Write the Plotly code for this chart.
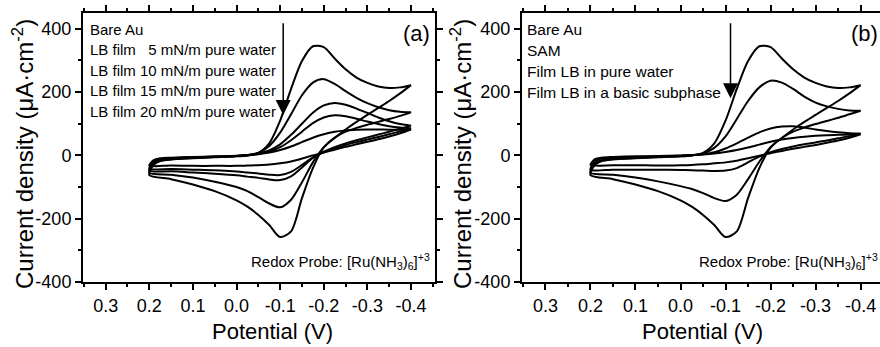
import plotly.graph_objects as go

# Potential grids (V) for the cathodic (forward) and anodic (reverse) sweeps
E_fwd = [0.20, 0.19, 0.175, 0.15, 0.10, 0.05, 0.00, -0.025, -0.05, -0.075, -0.10, -0.125,
         -0.15, -0.175, -0.20, -0.225, -0.25, -0.275, -0.30, -0.325, -0.35, -0.375, -0.40]
E_rev = [-0.40, -0.375, -0.35, -0.325, -0.30, -0.275, -0.25, -0.225, -0.20, -0.175, -0.15,
         -0.125, -0.10, -0.075, -0.05, -0.025, 0.00, 0.05, 0.10, 0.15, 0.20]

# Current density (uA/cm2) - panel (a)
bare_fwd = [-62, -30, -18, -13, -9, -6, -3, 0, 8, 38, 110, 210, 298, 345, 342, 306, 272, 246, 229, 218, 213, 215, 222]
bare_rev = [222, 196, 172, 150, 128, 106, 82, 55, 25, -40, -135, -240, -258, -220, -188, -162, -142, -113, -92, -75, -62]
lb5_fwd = [-55, -26, -16, -12, -8, -5, -2, 1, 8, 30, 72, 130, 190, 230, 241, 226, 203, 182, 165, 152, 143, 138, 136]
lb5_rev = [136, 125, 115, 106, 97, 87, 75, 56, 26, -22, -85, -140, -164, -152, -132, -113, -100, -83, -70, -61, -55]
lb10_fwd = [-48, -22, -14, -10, -7, -4, -2, 1, 6, 16, 35, 65, 100, 135, 158, 166, 160, 148, 134, 120, 108, 99, 94]
lb10_rev = [94, 84, 75, 66, 57, 48, 38, 26, 12, -8, -38, -66, -78, -76, -71, -67, -63, -58, -54, -50, -48]
lb15_fwd = [-42, -20, -12, -9, -6, -4, -2, 0, 5, 12, 26, 48, 75, 102, 120, 127, 124, 116, 107, 99, 92, 88, 86]
lb15_rev = [86, 76, 67, 58, 50, 42, 33, 22, 10, -6, -30, -52, -62, -61, -57, -54, -51, -47, -45, -43, -42]
lb20_fwd = [-32, -15, -9, -7, -5, -3, -1, 1, 4, 9, 17, 28, 42, 56, 67, 75, 79, 81, 82, 82, 81, 81, 82]
lb20_rev = [82, 70, 60, 51, 43, 35, 27, 18, 9, 0, -10, -19, -25, -29, -31, -32, -33, -33, -33, -32, -32]

# Current density (uA/cm2) - panel (b)
sam_fwd = [-55, -25, -15, -11, -8, -5, -3, 0, 6, 24, 60, 115, 172, 215, 236, 230, 210, 186, 167, 155, 147, 142, 141]
sam_rev = [141, 130, 119, 109, 99, 88, 75, 55, 26, -20, -75, -124, -144, -135, -119, -106, -97, -82, -70, -61, -55]
lbw_fwd = [-45, -18, -10, -7, -5, -3, -1, 1, 4, 10, 22, 38, 56, 73, 85, 91, 92, 88, 82, 77, 73, 70, 69]
lbw_rev = [69, 61, 54, 47, 41, 35, 28, 20, 10, -4, -22, -40, -48, -49, -48, -47, -46, -45, -45, -45, -45]
lbb_fwd = [-30, -12, -7, -5, -3, -2, 0, 1, 3, 6, 11, 17, 25, 34, 43, 50, 55, 59, 62, 64, 65, 66, 67]
lbb_rev = [67, 56, 47, 40, 33, 27, 21, 14, 7, -1, -9, -17, -22, -25, -28, -30, -31, -32, -31, -31, -30]

labels_a = ["Bare Au", "LB film \u20075 mN/m pure water", "LB film 10 mN/m pure water",
            "LB film 15 mN/m pure water", "LB film 20 mN/m pure water"]
labels_b = ["Bare Au", "SAM", "Film LB in pure water", "Film LB in a basic subphase"]

x_tick_vals = [0.3, 0.2, 0.1, 0.0, -0.1, -0.2, -0.3, -0.4]
x_tick_text = ["0.3", "0.2", "0.1", "0.0", "-0.1", "-0.2", "-0.3", "-0.4"]
y_tick_vals = [400, 200, 0, -200, -400]
y_tick_text = ["400", "200", "0", "-200", "-400"]

curves_a = [(bare_fwd, bare_rev), (lb5_fwd, lb5_rev), (lb10_fwd, lb10_rev),
            (lb15_fwd, lb15_rev), (lb20_fwd, lb20_rev)]
curves_b = [(bare_fwd, bare_rev), (sam_fwd, sam_rev), (lbw_fwd, lbw_rev), (lbb_fwd, lbb_rev)]

W, H = 880, 347
FONT = "Arial, 'Liberation Sans', sans-serif"

fig = go.Figure()
for (fw, rv), name in zip(curves_a, labels_a):
    fig.add_trace(go.Scatter(x=E_fwd + E_rev, y=fw + rv, mode="lines", name=name,
                             line=dict(color="black", width=2, shape="spline", smoothing=0.8),
                             xaxis="x", yaxis="y", showlegend=False))
for (fw, rv), name in zip(curves_b, labels_b):
    fig.add_trace(go.Scatter(x=E_fwd + E_rev, y=fw + rv, mode="lines", name=name,
                             line=dict(color="black", width=2, shape="spline", smoothing=0.8),
                             xaxis="x2", yaxis="y2", showlegend=False))

def px_x(p):
    return p / W

def px_y(p):
    return 1 - p / H

ydom = [px_y(282), px_y(13)]
common_x = dict(tickvals=x_tick_vals, ticktext=x_tick_text, ticks="outside", ticklen=6,
                tickwidth=1.5, tickcolor="black", showline=True, linecolor="black",
                linewidth=2, showgrid=False, zeroline=False, automargin=False,
                tickfont=dict(family=FONT, size=18, color="black"),
                minor=dict(dtick=0.05, ticks="outside", ticklen=3, tickwidth=1.5,
                           tickcolor="black", showgrid=False))
common_y = dict(tickvals=y_tick_vals, ticktext=y_tick_text, ticks="outside", ticklen=6,
                tickwidth=1.5, tickcolor="black", showline=True, linecolor="black",
                linewidth=2, showgrid=False, zeroline=False, range=[-400, 450], automargin=False,
                tickfont=dict(family=FONT, size=18, color="black"),
                minor=dict(dtick=100, ticks="outside", ticklen=3, tickwidth=1.5,
                           tickcolor="black", showgrid=False))

fig.update_layout(
    template="none",
    width=W, height=H, margin=dict(l=0, r=0, t=0, b=0, pad=0, autoexpand=False),
    paper_bgcolor="white", plot_bgcolor="white", font=dict(family=FONT, color="black"),
    xaxis=dict(domain=[px_x(83), px_x(435)], range=[0.352, -0.455], anchor="y",
               mirror="ticks", **common_x),
    yaxis=dict(domain=ydom, anchor="x", mirror="ticks", **common_y),
    xaxis2=dict(domain=[px_x(522), 1.0], range=[0.352, -0.443], anchor="y2",
                mirror="ticks", **common_x),
    yaxis2=dict(domain=ydom, anchor="x2", mirror=False, **common_y),
)

ann = []
# axis titles
for xc in (272, 702):
    ann.append(dict(x=px_x(xc), y=px_y(331), xref="paper", yref="paper", text="Potential (V)",
                    showarrow=False, font=dict(family=FONT, size=22, color="black"),
                    xanchor="center", yanchor="middle"))
for xc in (23, 461):
    ann.append(dict(x=px_x(xc), y=px_y(154), xref="paper", yref="paper",
                    text="Current density (\u03bcA\u00b7cm<sup>-2</sup>)", textangle=-90,
                    showarrow=False, font=dict(family=FONT, size=24, color="black"),
                    xanchor="center", yanchor="middle"))
# curve labels
for i, t in enumerate(labels_a):
    ann.append(dict(x=px_x(88), y=px_y(29 + i * 20.6), xref="paper", yref="paper", text=t,
                    showarrow=False, font=dict(family=FONT, size=15, color="black"),
                    xanchor="left", yanchor="middle"))
for i, t in enumerate(labels_b):
    ann.append(dict(x=px_x(525), y=px_y(29 + i * 21.2), xref="paper", yref="paper", text=t,
                    showarrow=False, font=dict(family=FONT, size=15.5, color="black"),
                    xanchor="left", yanchor="middle"))
# panel letters
for xc, t in ((416, "(a)"), (864, "(b)")):
    ann.append(dict(x=px_x(xc), y=px_y(33), xref="paper", yref="paper", text=t,
                    showarrow=False, font=dict(family=FONT, size=22, color="black"),
                    xanchor="center", yanchor="middle"))
# redox probe note
for xr in (432, 880):
    ann.append(dict(x=px_x(xr), y=px_y(261), xref="paper", yref="paper",
                    text="Redox Probe: [Ru(NH<sub>3</sub>)<sub>6</sub>]<sup>+3</sup>",
                    showarrow=False, font=dict(family=FONT, size=15, color="black"),
                    xanchor="right", yanchor="middle"))
# arrows showing decreasing current
ann.append(dict(x=-0.107, y=128, ax=-0.107, ay=422, xref="x", yref="y", axref="x", ayref="y",
                text="", showarrow=True, arrowhead=2, arrowsize=2, arrowwidth=1.5,
                arrowcolor="black"))
ann.append(dict(x=-0.111, y=181, ax=-0.111, ay=422, xref="x2", yref="y2", axref="x2", ayref="y2",
                text="", showarrow=True, arrowhead=2, arrowsize=2, arrowwidth=1.5,
                arrowcolor="black"))
fig.update_layout(annotations=ann)

fig.write_html("out.html")
